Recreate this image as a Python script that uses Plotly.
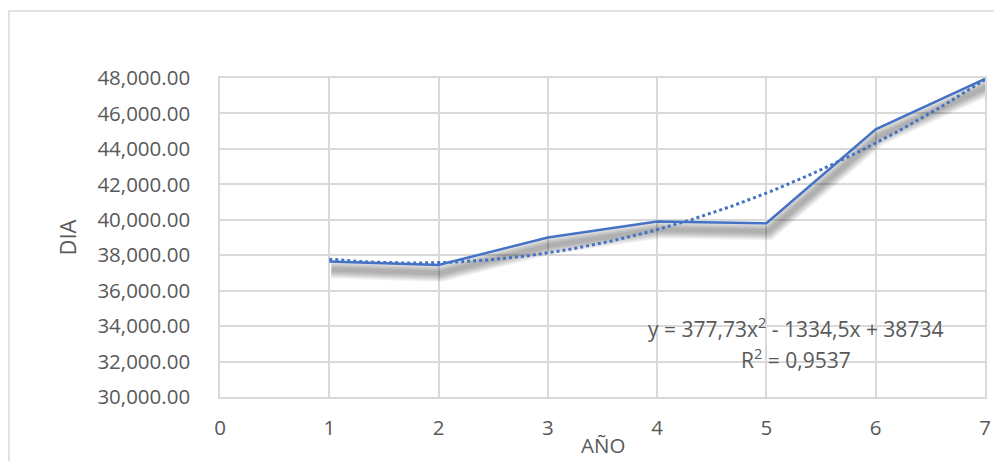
import numpy as np
import plotly.graph_objects as go

# Data
years = [1, 2, 3, 4, 5, 6, 7]
dia = [37650, 37450, 39000, 39900, 39800, 45100, 47950]
trend_coeffs = [377.73, -1334.5, 38734]  # from the displayed trendline equation
x_ticks = [0, 1, 2, 3, 4, 5, 6, 7]
y_ticks = [30000, 32000, 34000, 36000, 38000, 40000, 42000, 44000, 46000, 48000]
eq_text = "y = 377,73x<sup>2</sup> - 1334,5x + 38734"
r2_text = "R<sup>2</sup> = 0,9537"

# the page body has an 8px margin, so the figure is 8px smaller each way
W, H = 994, 453
ml, mr, mt, mb = 212, 17, 70, 64
plot_w = W - ml - mr
plot_h = H - mt - mb
px_y = (48000 - 30000) / plot_h
px_x = 7 / plot_w

BLUE = "#4472C4"
GRID = "#d9d9d9"
TXT = "#595959"
FONT = "Open Sans"

fig = go.Figure()

# soft blurred shadow under the series line
for wdt in [18, 16, 14, 12, 10, 8, 6, 4]:
    fig.add_trace(go.Scatter(
        x=[v + 2 * px_x for v in years],
        y=[v - 8 * px_y for v in dia],
        mode="lines", line=dict(color="#000000", width=wdt),
        opacity=0.04, hoverinfo="skip", showlegend=False))

fig.add_trace(go.Scatter(x=years, y=dia, mode="lines",
                         line=dict(color=BLUE, width=2.5), showlegend=False))

xt = np.linspace(1, 7, 200)
yt = np.polyval(trend_coeffs, xt)
fig.add_trace(go.Scatter(x=xt, y=yt, mode="lines",
                         line=dict(color=BLUE, width=3, dash="dot"),
                         showlegend=False))

fig.add_annotation(x=5.27, y=33950, xref="x", yref="y", text=eq_text,
                   showarrow=False, font=dict(family=FONT, size=21, color=TXT),
                   xanchor="center", yanchor="middle")
fig.add_annotation(x=5.27, y=32150, xref="x", yref="y", text=r2_text,
                   showarrow=False, font=dict(family=FONT, size=21, color=TXT),
                   xanchor="center", yanchor="middle")

# axis titles
fig.add_annotation(x=0.5, y=-(437 - (mt + plot_h)) / plot_h, xref="paper", yref="paper",
                   text="AÑO", showarrow=False,
                   font=dict(family=FONT, size=20.5, color=TXT),
                   xanchor="center", yanchor="middle")
fig.add_annotation(x=(58 - ml) / plot_w, y=0.5, xref="paper", yref="paper",
                   text="DIA", showarrow=False, textangle=-90,
                   font=dict(family=FONT, size=22, color=TXT),
                   xanchor="center", yanchor="middle")

# outer chart frame
fig.add_shape(type="rect", xref="paper", yref="paper",
              x0=(1 - ml) / plot_w, x1=1.2,
              y0=-0.5, y1=1 + (mt - 3) / plot_h,
              line=dict(color=GRID, width=1.5), fillcolor="rgba(0,0,0,0)",
              layer="below")

fig.update_layout(
    width=W, height=H,
    margin=dict(l=ml, r=mr, t=mt, b=mb),
    paper_bgcolor="white", plot_bgcolor="white",
    font=dict(family=FONT, size=20, color=TXT),
    showlegend=False,
    xaxis=dict(range=[0, 7], tickvals=x_ticks, ticktext=[str(v) for v in x_ticks],
               showgrid=True, gridcolor=GRID, gridwidth=1.5,
               showline=True, linecolor=GRID, linewidth=1.5, mirror=True,
               zeroline=False, ticks="", ticklabelstandoff=12,
               tickfont=dict(family=FONT, size=20.5, color=TXT)),
    yaxis=dict(range=[30000, 48000], tickvals=y_ticks,
               ticktext=[f"{v:,.2f}" for v in y_ticks],
               showgrid=True, gridcolor=GRID, gridwidth=1.5,
               showline=True, linecolor=GRID, linewidth=1.5, mirror=True,
               zeroline=False, ticks="", ticklabelstandoff=24,
               tickfont=dict(family=FONT, size=20.5, color=TXT)),
)

fig.write_html("out.html")
